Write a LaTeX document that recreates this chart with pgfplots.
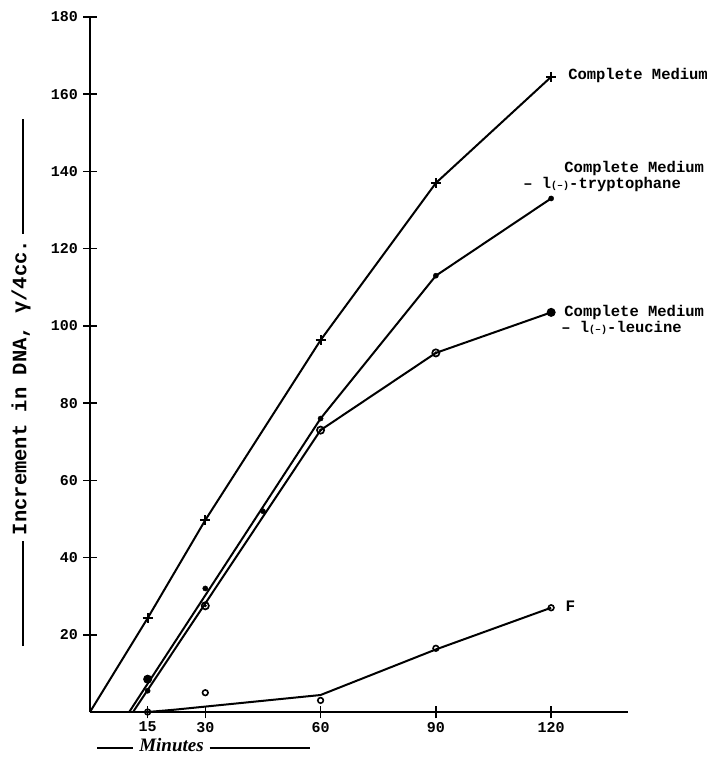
\documentclass[border=0pt]{standalone}
\usepackage{fontspec}
\setmainfont{Liberation Mono}
\newfontfamily\minfont{Liberation Serif}
\usepackage{pgfplots}
\pgfplotsset{compat=1.18}
\begin{document}
\begin{tikzpicture}
\begin{axis}[
  name=ax,
  scale only axis,
  width=538pt, height=695pt,
  xmin=0, xmax=140, ymin=0, ymax=180,
  axis lines*=left,
  axis line style={line width=1.8pt},
  xtick={15,30,60,90,120},
  ytick={20,40,60,80,100,120,140,160,180},
  tick align=center,
  major tick length=13pt,
  tick style={line width=1.5pt, black},
  /pgf/number format/assume math mode=true,
  ticklabel style={font=\fontsize{15}{15}\selectfont\bfseries},
  yticklabel style={xshift=-2pt},
  xlabel={\rule[0.45ex]{36pt}{1.4pt}\ {\minfont\bfseries\itshape\fontsize{19}{19}\selectfont Minutes}\ \rule[0.45ex]{100pt}{1.4pt}},
  xlabel style={at={(axis description cs:0.211,-0.047)}, anchor=center},
  ylabel={\rule[0.5ex]{105pt}{1.4pt}\ {\fontsize{20.5}{20.5}\selectfont\bfseries Increment in DNA, γ/4cc.}\ \rule[0.5ex]{115pt}{1.4pt}},
  ylabel style={at={(axis description cs:-0.128,0.474)}, anchor=center},
  clip=false,
  every axis plot/.append style={black},
]
% lines
\addplot[line width=2pt, no marks] coordinates {(0,0) (15,24.3) (30,49.7) (60,96.3) (90,137) (120,164.5)};
\addplot[line width=2pt, no marks] coordinates {(10.2,0) (60,76) (90,113) (120,133)};
\addplot[line width=2pt, no marks] coordinates {(11.2,0) (60,73) (90,93) (120,103.5)};
\addplot[line width=2pt, no marks] coordinates {(15,0) (22,0.6) (60,4.4) (90,16.2) (120,27)};
% marks
\addplot[only marks, mark=+, mark size=5pt, line width=2pt] coordinates {(15,24.3) (30,49.7) (60,96.3) (90,137) (120,164.5)};
\addplot[only marks, mark=*, mark size=2.6pt] coordinates {(15,5.5) (30,32) (45,52) (60,76) (90,113) (120,133)};
\addplot[only marks, mark=o, mark size=3.6pt, line width=1.7pt] coordinates {(15,8.5) (30,27.5) (60,73) (90,93) (120,103.5)};
\addplot[only marks, mark=*, mark size=1.3pt] coordinates {(30,27.5) (60,73) (90,93)};
\addplot[only marks, mark=*, mark size=3.8pt] coordinates {(15,8.5) (120,103.5)};
\addplot[only marks, mark=o, mark size=2.8pt, line width=1.6pt, fill=white] coordinates {(15,0) (30,5) (60,3) (90,16.5) (120,27)};
% labels
\node[anchor=west, font=\fontsize{15.5}{15.5}\selectfont\bfseries, inner sep=0pt] at (axis cs:124.4,164.8) {Complete Medium};
\node[anchor=west, font=\fontsize{15.5}{15.5}\selectfont\bfseries, inner sep=0pt] at (axis cs:123.4,140.7) {Complete Medium};
\node[anchor=west, font=\fontsize{15.5}{15.5}\selectfont\bfseries, inner sep=0pt] at (axis cs:112.7,136.6) {– l{\fontsize{10}{10}\selectfont(–)}-tryptophane};
\node[anchor=west, font=\fontsize{15.5}{15.5}\selectfont\bfseries, inner sep=0pt] at (axis cs:123.4,103.5) {Complete Medium};
\node[anchor=west, font=\fontsize{15.5}{15.5}\selectfont\bfseries, inner sep=0pt] at (axis cs:122.6,99.4) {– l{\fontsize{10}{10}\selectfont(–)}-leucine};
\node[anchor=west, font=\fontsize{16}{16}\selectfont\bfseries, inner sep=0pt] at (axis cs:123.7,27.3) {F};
\end{axis}
\pgfresetboundingbox
\path ([shift={(-90pt,-45pt)}]ax.south west) rectangle ([shift={(92pt,17pt)}]ax.north east);
\end{tikzpicture}
\end{document}
